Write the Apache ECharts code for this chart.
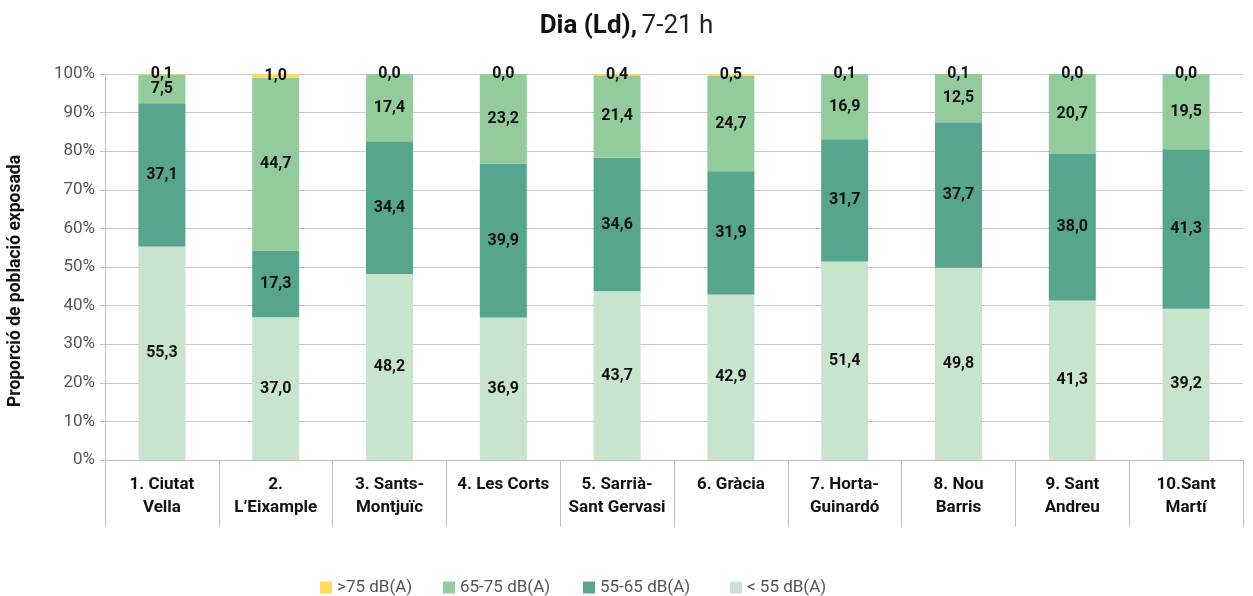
<!DOCTYPE html>
<html>
<head>
    <meta charset="utf-8">
    <script src="https://cdn.jsdelivr.net/npm/echarts@6/dist/echarts.min.js"></script>
    <style>
        body { margin: 0; background: #fff; }
        #main { width: 1253px; height: 596px; }
    </style>
</head>
<body>
<div id="main"></div>
<script>
    var districtes = ['1. Ciutat\nVella', '2.\nL\u2019Eixample', '3. Sants-\nMontjuïc', '4. Les Corts',
        '5. Sarrià-\nSant Gervasi', '6. Gràcia', '7. Horta-\nGuinardó', '8. Nou\nBarris',
        '9. Sant\nAndreu', '10.Sant\nMartí'];
    var menys55 = [55.3, 37.0, 48.2, 36.9, 43.7, 42.9, 51.4, 49.8, 41.3, 39.2];
    var de55a65 = [37.1, 17.3, 34.4, 39.9, 34.6, 31.9, 31.7, 37.7, 38.0, 41.3];
    var de65a75 = [7.5, 44.7, 17.4, 23.2, 21.4, 24.7, 16.9, 12.5, 20.7, 19.5];
    var mes75 = [0.1, 1.0, 0.0, 0.0, 0.4, 0.5, 0.1, 0.1, 0.0, 0.0];
    var yTicks = [0, 10, 20, 30, 40, 50, 60, 70, 80, 90, 100];
    var nomsSeries = ['>75 dB(A)', '65-75 dB(A)', '55-65 dB(A)', '< 55 dB(A)'];

    var colors = {
        mes75: '#ffd966',
        de65a75: '#94cb9d',
        de55a65: '#57a48f',
        menys55: '#c9e4cd'
    };

    function fmt(p) {
        return p.value.toFixed(1).replace('.', ',');
    }

    var labelStyle = {
        show: true,
        position: 'inside',
        color: '#111',
        fontWeight: 'bold',
        fontSize: 16,
        fontFamily: 'Roboto',
        formatter: fmt
    };

    function serie(name, data, color) {
        return {
            name: name,
            type: 'bar',
            stack: 'total',
            barWidth: 47,
            itemStyle: { color: color },
            label: labelStyle,
            data: data
        };
    }

    // una llegenda per element, per col·locar-les com a l'original
    var posLlegenda = [320, 443, 583, 730];
    var llegendes = nomsSeries.map(function (nom, i) {
        return {
            bottom: 0,
            left: posLlegenda[i],
            padding: 0,
            itemWidth: 12,
            itemHeight: 12,
            icon: 'rect',
            textStyle: { fontSize: 17, color: '#555', fontFamily: 'Roboto' },
            data: [nom]
        };
    });

    var chart = echarts.init(document.getElementById('main'));
    chart.setOption({
        animation: false,
        textStyle: { fontFamily: 'Roboto' },
        title: {
            text: '{b|Dia (Ld),} {n|7-21 h}',
            left: 'center',
            top: 8,
            textStyle: {
                rich: {
                    b: { fontSize: 26, fontWeight: 'bold', color: '#111', fontFamily: 'Roboto' },
                    n: { fontSize: 26, fontWeight: 'normal', color: '#222', fontFamily: 'Roboto' }
                }
            }
        },
        legend: llegendes,
        grid: { left: 105, right: 10, top: 74, bottom: 136, outerBoundsMode: 'none', containLabel: false },
        xAxis: {
            type: 'category',
            data: districtes,
            axisLine: { lineStyle: { color: '#bfbfbf' } },
            axisTick: { show: true, length: 67, lineStyle: { color: '#bfbfbf' } },
            axisLabel: {
                interval: 0,
                margin: 13,
                color: '#111',
                fontWeight: 'bold',
                fontSize: 17,
                lineHeight: 23,
                fontFamily: 'Roboto'
            }
        },
        yAxis: {
            type: 'value',
            min: yTicks[0],
            max: yTicks[yTicks.length - 1],
            interval: 10,
            name: 'Proporció de població exposada',
            nameLocation: 'middle',
            nameGap: 80,
            nameTextStyle: {
                fontSize: 17.5, fontWeight: 'bold', color: '#111', fontFamily: 'Roboto',
                padding: [0, 28, 0, 0]
            },
            axisLine: { show: true, lineStyle: { color: '#bfbfbf' } },
            axisTick: { show: true, length: 5, lineStyle: { color: '#bfbfbf' } },
            axisLabel: { formatter: '{value}%', fontSize: 17, color: '#555', margin: 10, fontFamily: 'Roboto' },
            splitLine: { lineStyle: { color: '#c8c8c8' } }
        },
        series: [
            serie('< 55 dB(A)', menys55, colors.menys55),
            serie('55-65 dB(A)', de55a65, colors.de55a65),
            serie('65-75 dB(A)', de65a75, colors.de65a75),
            serie('>75 dB(A)', mes75, colors.mes75)
        ]
    });
</script>
</body>
</html>
